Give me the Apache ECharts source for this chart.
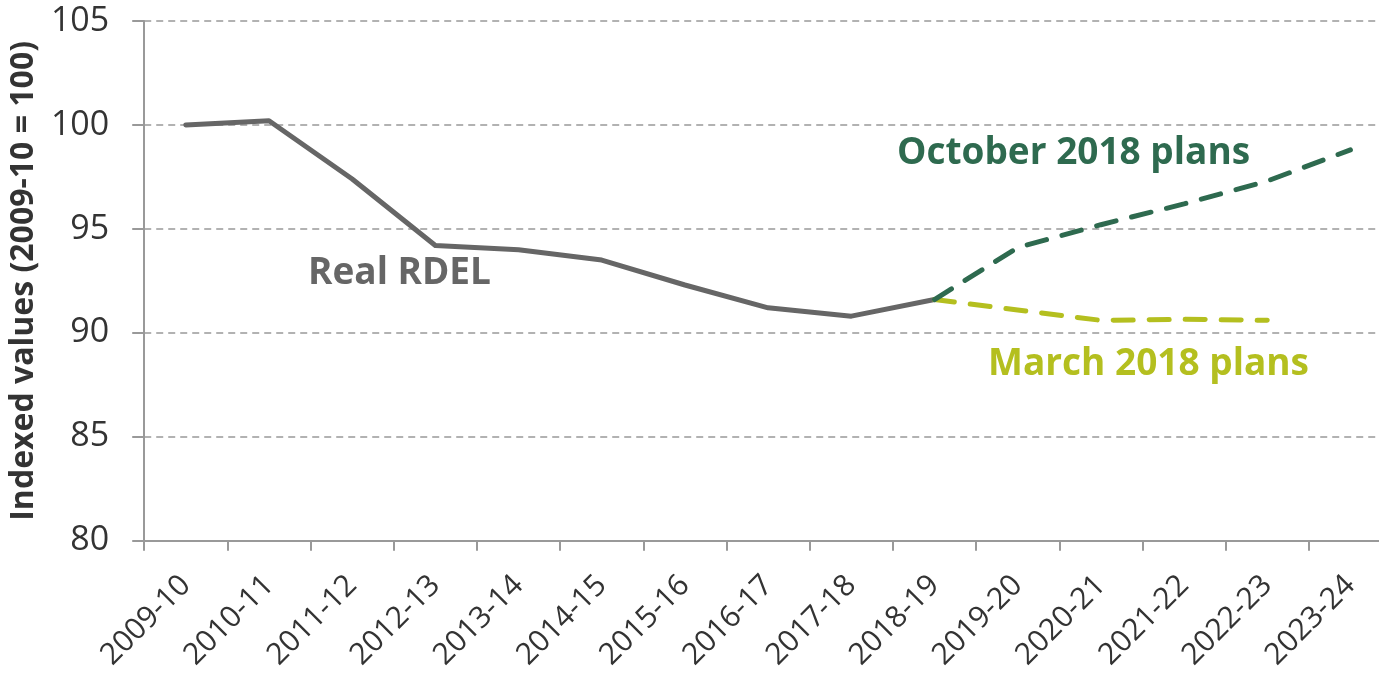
<!DOCTYPE html>
<html>
<head>
<meta charset="utf-8">
<script src="https://cdn.jsdelivr.net/npm/echarts@6/dist/echarts.min.js"></script>
<style>
  html, body { margin: 0; padding: 0; background: #fff; overflow: hidden; }
  /* 图表比窗口略宽，右侧被裁掉 */
  #chart { width: 1392px; height: 673px; }
</style>
</head>
<body>
<div id="chart"></div>
<script>
// 年度
var years = ['2009-10', '2010-11', '2011-12', '2012-13', '2013-14', '2014-15', '2015-16',
  '2016-17', '2017-18', '2018-19', '2019-20', '2020-21', '2021-22', '2022-23', '2023-24'];
// Real RDEL 实际值
var realRdel = [100, 100.2, 97.4, 94.2, 94.0, 93.5, 92.3, 91.2, 90.8, 91.6,
  null, null, null, null, null];
// October 2018 plans
var octoberPlans = [null, null, null, null, null, null, null, null, null, 91.6,
  94.1, 95.2, 96.2, 97.3, 98.8];
// March 2018 plans
var marchPlans = [null, null, null, null, null, null, null, null, null, 91.6,
  91.1, 90.6, 90.65, 90.6, null];
var yTicks = {min: 80, max: 105, interval: 5};

var chart = echarts.init(document.getElementById('chart'));
var font = '"Open Sans", "Noto Sans", sans-serif';

var option = {
  animation: false,
  grid: {
    left: 143,
    top: 21,
    right: 0,
    bottom: 132,
    containLabel: false
  },
  xAxis: {
    type: 'category',
    data: years,
    boundaryGap: true,
    axisLine: {lineStyle: {color: '#999', width: 2}},
    axisTick: {show: true, length: 10, lineStyle: {color: '#999', width: 2}},
    axisLabel: {
      rotate: 45,
      margin: 40,
      interval: 0,
      color: '#333',
      fontFamily: font,
      fontSize: 30
    },
    splitLine: {show: false}
  },
  yAxis: {
    type: 'value',
    min: yTicks.min,
    max: yTicks.max,
    interval: yTicks.interval,
    name: 'Indexed values (2009-10 = 100)',
    nameLocation: 'middle',
    nameGap: 100,
    nameRotate: 90,
    nameTextStyle: {
      color: '#333',
      fontFamily: font,
      fontWeight: 'bold',
      fontSize: 32
    },
    axisLine: {show: true, lineStyle: {color: '#999', width: 2}},
    axisTick: {show: true, length: 12, lineStyle: {color: '#999', width: 2}},
    axisLabel: {
      margin: 35,
      color: '#333',
      fontFamily: font,
      fontSize: 34
    },
    splitLine: {lineStyle: {color: '#999', width: 1.5, type: [7, 5]}}
  },
  series: [
    {
      name: 'Real RDEL',
      type: 'line',
      data: realRdel,
      showSymbol: false,
      symbol: 'none',
      z: 2,
      lineStyle: {color: '#666666', width: 5, cap: 'round', join: 'round'}
    },
    {
      name: 'March 2018 plans',
      type: 'line',
      data: marchPlans,
      showSymbol: false,
      symbol: 'none',
      z: 3,
      lineStyle: {color: '#b4bf1f', width: 5, type: [20, 16], cap: 'round'}
    },
    {
      name: 'October 2018 plans',
      type: 'line',
      data: octoberPlans,
      showSymbol: false,
      symbol: 'none',
      z: 4,
      lineStyle: {color: '#2e6a4f', width: 5, type: [20, 16], cap: 'round'}
    }
  ],
  // 标注文字
  graphic: [
    {
      type: 'text', left: 308, top: 255,
      style: {text: 'Real RDEL', fill: '#666666', font: 'bold 37px ' + font}
    },
    {
      type: 'text', left: 897, top: 135,
      style: {text: 'October 2018 plans', fill: '#2e6a4f', font: 'bold 37px ' + font}
    },
    {
      type: 'text', left: 988, top: 346,
      style: {text: 'March 2018 plans', fill: '#b4bf1f', font: 'bold 37px ' + font}
    }
  ]
};

chart.setOption(option);
</script>
</body>
</html>
